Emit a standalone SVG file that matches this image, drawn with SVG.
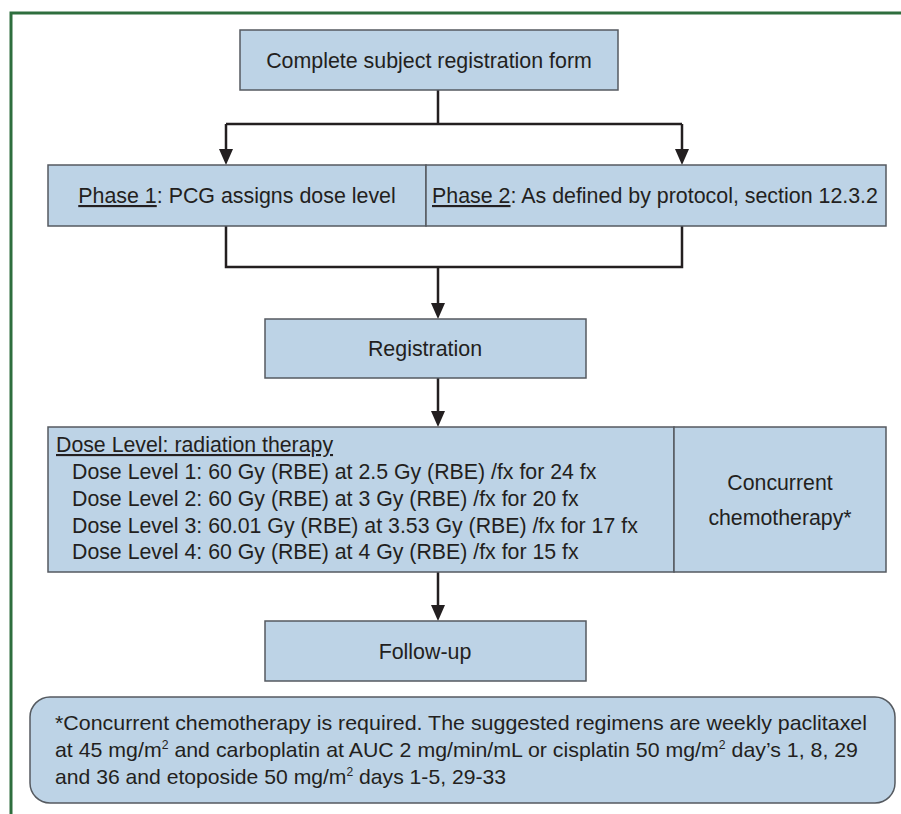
<svg xmlns="http://www.w3.org/2000/svg" width="901" height="814" viewBox="0 0 901 814">
<defs>
<style>
.box{fill:#bdd3e6;stroke:#555a60;stroke-width:1.5}
.t{font-family:"Liberation Sans",Arial,sans-serif;fill:#231f20}
.c{stroke:#231f20;stroke-width:2.5;fill:none}
.u{text-decoration:underline}
</style>
</defs>
<rect width="901" height="814" fill="#fff"/>
<path d="M11,814 V13 H901" fill="none" stroke="#2e6e3e" stroke-width="3"/>

<g id="connectors">
<path class="c" d="M438,90 V124 M226,124 H682"/>
<path class="c" d="M226,124 V151"/>
<polygon points="219,149 233,149 226,165" fill="#231f20"/>
<path class="c" d="M682,124 V151"/>
<polygon points="675,149 689,149 682,165" fill="#231f20"/>
<path class="c" d="M226,226 V267 H682 V226 M438,267 V305"/>
<polygon points="431,303 445,303 438,319" fill="#231f20"/>
<path class="c" d="M438,378 V413"/>
<polygon points="431,411 445,411 438,427" fill="#231f20"/>
<path class="c" d="M438,572 V607"/>
<polygon points="431,605 445,605 438,621" fill="#231f20"/>
</g>

<g id="n_form">
<rect class="box" x="240" y="30" width="378" height="60"/>
<text class="t" x="429" y="68" font-size="21.4" text-anchor="middle">Complete subject registration form</text>
</g>

<g id="n_phase1">
<rect class="box" x="48" y="165" width="378" height="61"/>
<text class="t" x="237" y="203" font-size="21.4" text-anchor="middle"><tspan class="u">Phase 1</tspan>: PCG assigns dose level</text>
</g>

<g id="n_phase2">
<rect class="box" x="426" y="165" width="460" height="61"/>
<text class="t" x="655" y="203" font-size="21.4" text-anchor="middle"><tspan class="u">Phase 2</tspan>: As defined by protocol, section 12.3.2</text>
</g>

<g id="n_registration">
<rect class="box" x="265" y="319" width="321" height="59"/>
<text class="t" x="425" y="356" font-size="21.4" text-anchor="middle">Registration</text>
</g>

<g id="n_dose">
<rect class="box" x="48" y="427" width="626" height="145"/>
<text class="t" x="56" y="452" font-size="21.3"><tspan class="u">Dose Level: radiation therapy</tspan></text>
<text class="t" x="72" y="479" font-size="21.3">Dose Level 1: 60 Gy (RBE) at 2.5 Gy (RBE) /fx for 24 fx</text>
<text class="t" x="72" y="506" font-size="21.3">Dose Level 2: 60 Gy (RBE) at 3 Gy (RBE) /fx for 20 fx</text>
<text class="t" x="72" y="533" font-size="21.3">Dose Level 3: 60.01 Gy (RBE) at 3.53 Gy (RBE) /fx for 17 fx</text>
<text class="t" x="72" y="559" font-size="21.3">Dose Level 4: 60 Gy (RBE) at 4 Gy (RBE) /fx for 15 fx</text>
</g>

<g id="n_chemo">
<rect class="box" x="674" y="427" width="212" height="145"/>
<text class="t" x="780" y="490" font-size="21.3" text-anchor="middle">Concurrent</text>
<text class="t" x="780" y="525" font-size="21.3" text-anchor="middle">chemotherapy*</text>
</g>

<g id="n_followup">
<rect class="box" x="265" y="621" width="321" height="60"/>
<text class="t" x="425" y="659" font-size="21.4" text-anchor="middle">Follow-up</text>
</g>

<g id="n_footnote">
<rect class="box" x="30" y="697" width="865" height="106" rx="20" ry="20"/>
<text class="t" x="55" y="730" font-size="21" textLength="812" lengthAdjust="spacingAndGlyphs">*Concurrent chemotherapy is required. The suggested regimens are weekly paclitaxel</text>
<text class="t" x="55" y="757" font-size="21" textLength="803" lengthAdjust="spacingAndGlyphs">at 45 mg/m<tspan font-size="12" dy="-8">2</tspan><tspan dy="8"> and carboplatin at AUC 2 mg/min/mL or cisplatin 50 mg/m</tspan><tspan font-size="12" dy="-8">2</tspan><tspan dy="8"> day’s 1, 8, 29</tspan></text>
<text class="t" x="55" y="784" font-size="21" textLength="451" lengthAdjust="spacingAndGlyphs">and 36 and etoposide 50 mg/m<tspan font-size="12" dy="-8">2</tspan><tspan dy="8"> days 1-5, 29-33</tspan></text>
</g>
</svg>
